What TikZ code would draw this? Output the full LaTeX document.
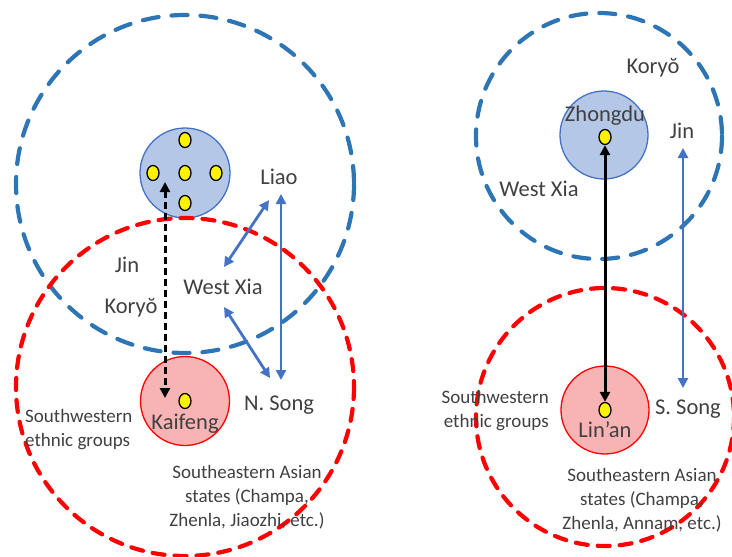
\documentclass[tikz,border=0pt]{standalone}
\usepackage{fontspec}
\setmainfont{Carlito}
\usetikzlibrary{arrows.meta}
\definecolor{txt}{HTML}{404040}
\definecolor{bdash}{HTML}{2E75B6}
\definecolor{bline}{HTML}{4472C4}
\definecolor{bfill}{HTML}{B4C7E7}
\definecolor{pfill}{HTML}{F8B4B4}
\definecolor{rdash}{HTML}{FF0000}
\tikzset{
  bluering/.style={draw=bdash, line width=4.2pt, dash pattern=on 16pt off 13pt, line cap=round},
  redring/.style={draw=rdash, line width=4.2pt, dash pattern=on 12pt off 10pt, line cap=round},
  capblue/.style={circle, draw=bline, line width=1.3pt, fill=bfill, minimum size=90pt, inner sep=0},
  capred/.style={circle, draw=rdash, line width=1.3pt, fill=pfill, minimum size=89pt, inner sep=0},
  dot/.style={ellipse, draw=black, line width=1.3pt, fill=yellow, minimum width=12pt, minimum height=15pt, inner sep=0},
  big/.style={text=txt, font=\fontsize{22.5}{26}\selectfont, inner sep=0},
  small/.style={text=txt, font=\fontsize{19}{24}\selectfont, inner sep=0, align=center},
  bluearrow/.style={draw=bline, line width=2.8pt, {Triangle[length=10pt,width=10pt]}-{Triangle[length=10pt,width=10pt]}},
  blackarrow/.style={draw=black, line width=3pt, {Triangle[length=10pt,width=10pt]}-{Triangle[length=10pt,width=10pt]}},
}
\usetikzlibrary{shapes.geometric}
\begin{document}
\begin{tikzpicture}[x=1pt,y=-1pt]
\useasboundingbox (0,0) rectangle (732,557);
% ---------- left panel ----------
\node[capblue] (capL) at (185,173) {};
\node[capred] (capK) at (185,401) {};
\draw[bluering] (185,184) circle (169);
\draw[redring] (185,387) circle (169);
\node[dot] (d1) at (185,140) {};
\node[dot] (d2) at (153,173) {};
\node[dot] (d3) at (185,173) {};
\node[dot] (d4) at (216,173) {};
\node[dot] (d5) at (185,203) {};
\node[dot] (dK) at (185,401) {};
\node[big] (kaifeng) at (185,424) {Kaifeng};
\node[big] (liao) at (279,177) {Liao};
\node[big] (jinL) at (127,265) {Jin};
\node[big] (wxL) at (223,287) {West Xia};
\node[big] (koL) at (131,308) {Koryŏ};
\node[big] (nsong) at (279,405) {N. Song};
\node[small, align=left, anchor=west] (swL) at (25,430) {Southwestern\\ethnic groups};
\node[small] (seL) at (247,497) {Southeastern Asian\\states (Champa,\\Zhenla, Jiaozhi, etc.)};
\coordinate (aTop) at (165,182);
\coordinate (aBot) at (165,398);
\draw[blackarrow, dash pattern=on 7pt off 4pt] (aTop) -- (aBot);
\coordinate (l1) at (269,200);
\coordinate (w1) at (224,267);
\draw[bluearrow] (l1) -- (w1);
\coordinate (w2) at (224,307);
\coordinate (n1) at (270,378);
\draw[bluearrow] (w2) -- (n1);
\coordinate (v1) at (281,194);
\coordinate (v2) at (281,380);
\draw[bluearrow] (v1) -- (v2);
% ---------- right panel ----------
\node[capblue, minimum size=88pt] (capZ) at (604,135) {};
\node[capred, minimum size=88pt] (capR) at (605,410) {};
\draw[bluering] (599,136) circle (123);
\draw[redring] (605,417) circle (129);
\node[big] (zhongdu) at (605,116) {Zhongdu};
\node[dot] (dZ) at (605,137) {};
\node[dot] (dR) at (605,410) {};
\node[big] (linan) at (605,430) {Lin’an};
\node[big] (koR) at (653,68) {Koryŏ};
\node[big] (jinR) at (682,131) {Jin};
\node[big] (wxR) at (539,189) {West Xia};
\node[big] (ssong) at (688,409) {S. Song};
\node[small, align=right, anchor=east] (swR) at (549,411) {Southwestern\\ethnic groups};
\node[small] (seR) at (642,500) {Southeastern Asian\\states (Champa,\\Zhenla, Annam, etc.)};
\draw[blackarrow] (dZ.south) -- (dR.north);
\coordinate (j1) at (683,148);
\coordinate (j2) at (683,388);
\draw[bluearrow] (j1) -- (j2);
\end{tikzpicture}
\end{document}
